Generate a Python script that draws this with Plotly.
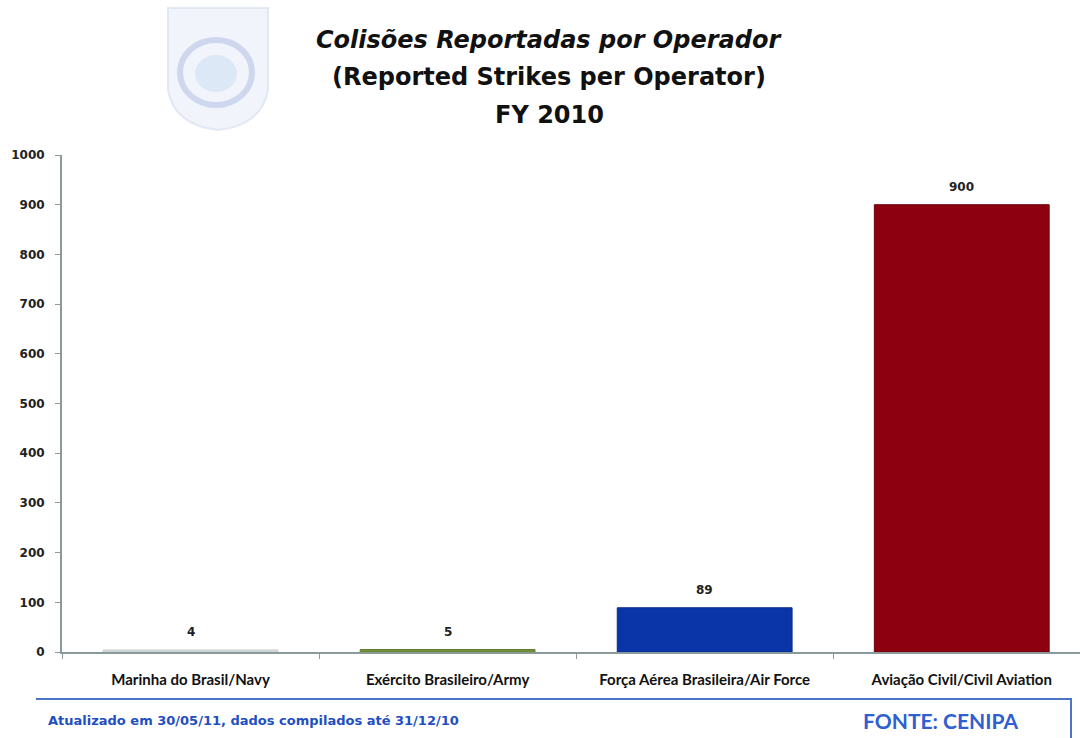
import plotly.graph_objects as go

categories = ["Marinha do Brasil/Navy", "Exército Brasileiro/Army",
              "Força Aérea Brasileira/Air Force", "Aviação Civil/Civil Aviation"]
values = [4, 5, 89, 900]
colors = ["#d8dcdc", "#77933c", "#0a35a8", "#8c0010"]
line_colors = ["#c4caca", "#5f7a2c", "#082a8a", "#6e000c"]
y_ticks = [0, 100, 200, 300, 400, 500, 600, 700, 800, 900, 1000]

W, H = 1080, 738
L, R, T, B = 62, 0, 155, 86
pw, ph = W - L - R, H - T - B

def px(x):
    return (x - L) / pw

def py(y):
    return (H - B - y) / ph

fig = go.Figure()
fig.add_trace(go.Bar(
    x=categories, y=values,
    marker=dict(color=colors, line=dict(color=line_colors, width=1)),
    width=0.68,
))

for c, v in zip(categories, values):
    fig.add_annotation(x=c, y=v, xref="x", yref="y", text=str(v),
                       showarrow=False, yanchor="bottom", yshift=9,
                       font=dict(family="DejaVu Sans", size=12, color="#222222", weight="bold"))

fig.update_layout(
    width=W, height=H,
    margin=dict(l=L, r=R, t=T, b=B, pad=0),
    paper_bgcolor="white", plot_bgcolor="white",
    showlegend=False,
    font=dict(family="Lato", color="#222222"),
    xaxis=dict(
        type="category", range=[-0.5, 3.46],
        showline=True, linecolor="#8a9a9a", linewidth=2,
        ticks="outside", tickson="boundaries", ticklen=5, tickcolor="#8a9a9a",
        tickfont=dict(family="Lato", size=15, color="#111111", weight="bold"),
        ticklabelstandoff=13,
        showgrid=False, fixedrange=True,
    ),
    yaxis=dict(
        range=[0, 1000], tickvals=y_ticks,
        showline=True, linecolor="#8a9a9a", linewidth=2,
        ticks="outside", ticklen=5, tickcolor="#8a9a9a",
        tickfont=dict(family="DejaVu Sans", size=12, color="#222222", weight="bold"),
        ticklabelstandoff=8,
        showgrid=False, zeroline=False,
    ),
)

# Title
title_lines = ["<i>Colisões Reportadas por Operador</i>",
               "(Reported Strikes per Operator)", "FY 2010"]
for line, yy in zip(title_lines, [40, 77, 115]):
    fig.add_annotation(
        x=px(549), y=py(yy), xref="paper", yref="paper",
        text="<b>" + line + "</b>", showarrow=False,
        font=dict(family="DejaVu Sans", size=24, color="#111111"),
        xanchor="center", yanchor="middle",
    )

# Faint watermark logo
fig.add_shape(type="path", xref="paper", yref="paper",
              path=f"M {px(168)} {py(8)} L {px(268)} {py(8)} L {px(268)} {py(90)} "
                   f"Q {px(262)} {py(125)} {px(218)} {py(130)} Q {px(174)} {py(125)} {px(168)} {py(90)} Z",
              fillcolor="rgba(232,238,248,0.6)", line=dict(color="rgba(215,225,240,0.7)", width=2),
              layer="below")
fig.add_shape(type="circle", xref="paper", yref="paper",
              x0=px(180), x1=px(252), y0=py(40), y1=py(105),
              line=dict(color="rgba(185,195,230,0.6)", width=6), layer="below")
fig.add_shape(type="circle", xref="paper", yref="paper",
              x0=px(195), x1=px(237), y0=py(55), y1=py(92),
              fillcolor="rgba(200,220,240,0.5)", line=dict(width=0), layer="below")

# Footer box
fig.add_shape(type="line", xref="paper", yref="paper",
              x0=px(36), x1=px(1072), y0=py(699), y1=py(699),
              line=dict(color="#4a74c8", width=2))
fig.add_shape(type="line", xref="paper", yref="paper",
              x0=px(1071), x1=px(1071), y0=py(699), y1=py(740),
              line=dict(color="#4a74c8", width=2))
fig.add_annotation(x=px(46), y=py(720), xref="paper", yref="paper",
                   text="<b>Atualizado em 30/05/11, dados compilados até 31/12/10</b>",
                   showarrow=False, xanchor="left", yanchor="middle",
                   font=dict(family="DejaVu Sans", size=13, color="#1f4fc0"))
fig.add_annotation(x=px(940), y=py(720), xref="paper", yref="paper",
                   text="<b>FONTE: CENIPA</b>",
                   showarrow=False, xanchor="center", yanchor="middle",
                   font=dict(family="Lato", size=21, color="#2f5fd0"))

fig.write_html("out.html")
